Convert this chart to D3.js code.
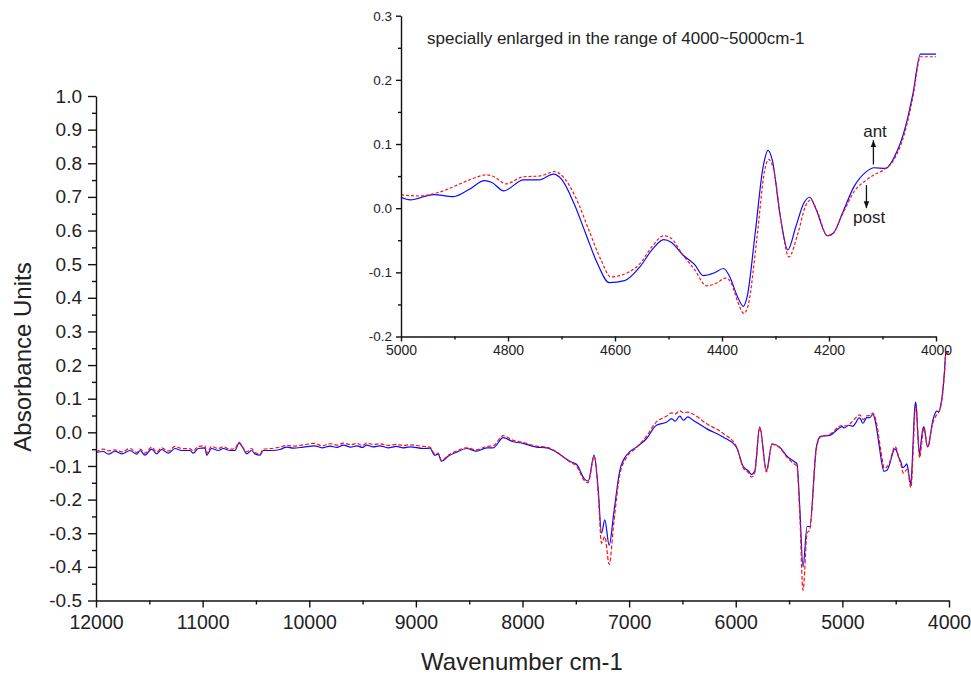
<!DOCTYPE html>
<html>
<head>
<meta charset="utf-8">
<script src="https://d3js.org/d3.v7.min.js"></script>
<style>
  body { margin: 0; background: #fff; }
  text { font-family: "Liberation Sans", Arial, sans-serif; fill: #222; }
  .axis path, .axis line { stroke: #111; stroke-width: 1.4; }
</style>
</head>
<body>
<script>
// full spectrum, 12000 -> 5119 cm-1 (the 5000 -> 4000 part is taken from the enlarged arrays)
const mainWn = [12000,11931,11884,11822,11759,11681,11618,11587,11541,11478,11431,11384,11322,11259,11197,11119,11088,11041,10978,10962,10916,10853,10806,10744,10697,10659,10619,10587,10541,10509,10462,10431,10353,10275,10212,10150,
  10056,9950,9880,9806,9740,9681,9610,9556,9500,9462,9400,9337,9260,9181,9120,9056,
  8931,8869,8822,8791,8759,8697,8619,8525,8431,8337,8275,8181,8087,7994,7869,7775,7681,7556,7494,7416,7384,7328,7290,7259,7228,7187,7144,7087,7025,6931,6838,6744,
  6650,6600,6570,6525,6490,6450,6400,
  6275,6119,5994,5931,5880,5853,5822,5775,5712,5660,5588,5520,5447,5426,5400,5369,5331,5306,5244,5206,5119];
const mainAnt = [-0.060,-0.057,-0.065,-0.056,-0.064,-0.054,-0.065,-0.054,-0.068,-0.050,-0.064,-0.051,-0.062,-0.048,-0.054,-0.054,-0.062,-0.048,-0.046,-0.068,-0.048,-0.054,-0.048,-0.054,-0.054,-0.032,-0.048,-0.064,-0.054,-0.064,-0.068,-0.054,-0.054,-0.051,-0.044,-0.047,
  -0.044,-0.040,-0.046,-0.041,-0.045,-0.038,-0.044,-0.040,-0.045,-0.038,-0.043,-0.040,-0.046,-0.042,-0.046,-0.043,
  -0.048,-0.047,-0.068,-0.065,-0.086,-0.071,-0.059,-0.048,-0.056,-0.046,-0.046,-0.016,-0.028,-0.033,-0.044,-0.046,-0.059,-0.086,-0.095,-0.140,-0.145,-0.068,-0.170,-0.300,-0.260,-0.336,-0.240,-0.113,-0.068,-0.044,-0.019,0.021,
  0.030,0.041,0.033,0.048,0.036,0.046,0.036,
  0.011,-0.014,-0.044,-0.101,-0.115,-0.125,-0.115,0.016,-0.113,-0.034,-0.044,-0.071,-0.088,-0.093,-0.220,-0.400,-0.280,-0.280,-0.044,-0.012,-0.009];
const mainPost = [-0.058,-0.050,-0.055,-0.052,-0.058,-0.048,-0.060,-0.050,-0.062,-0.044,-0.058,-0.046,-0.056,-0.042,-0.048,-0.049,-0.055,-0.042,-0.040,-0.062,-0.042,-0.048,-0.043,-0.050,-0.049,-0.029,-0.046,-0.058,-0.048,-0.060,-0.064,-0.050,-0.048,-0.044,-0.039,-0.041,
  -0.037,-0.033,-0.040,-0.034,-0.038,-0.032,-0.037,-0.033,-0.039,-0.032,-0.036,-0.034,-0.039,-0.036,-0.039,-0.037,
  -0.042,-0.044,-0.064,-0.062,-0.084,-0.068,-0.056,-0.046,-0.052,-0.042,-0.040,-0.010,-0.024,-0.030,-0.041,-0.044,-0.058,-0.088,-0.100,-0.145,-0.150,-0.072,-0.180,-0.330,-0.310,-0.393,-0.270,-0.125,-0.075,-0.046,-0.012,0.031,
  0.048,0.058,0.054,0.064,0.058,0.060,0.054,
  0.026,-0.003,-0.042,-0.105,-0.120,-0.133,-0.120,0.014,-0.118,-0.036,-0.046,-0.074,-0.095,-0.100,-0.240,-0.470,-0.300,-0.290,-0.050,-0.014,-0.006];

// enlarged range, 5000 -> 4000 cm-1
const zoomWn = [5000,4983,4939,4902,4873,4844,4830,4808,4771,4742,4715,4699,4677,4655,4633,4611,4582,4553,4531,4509,4495,4473,4451,4435,4415,4397,4386,4371,4360,4353,4338,4323,4314,4306,4291,4277,4262,4247,4236,4225,4203,4192,4175,4153,4130,4116,4094,4079,4057,4043,4029,4000];
const zoomAnt = [0.017,0.013,0.021,0.018,0.029,0.043,0.040,0.027,0.044,0.044,0.053,0.044,0.008,-0.039,-0.086,-0.116,-0.113,-0.091,-0.065,-0.049,-0.053,-0.073,-0.088,-0.105,-0.101,-0.094,-0.106,-0.138,-0.153,-0.138,-0.039,0.065,0.090,0.075,-0.013,-0.065,-0.029,0.008,0.017,0.000,-0.043,-0.039,-0.008,0.034,0.057,0.063,0.062,0.078,0.127,0.179,0.240,0.240];
const zoomPostWn = [5000,4968,4932,4895,4866,4841,4826,4804,4771,4742,4713,4695,4673,4648,4626,4608,4575,4553,4531,4509,4495,4473,4451,4429,4411,4393,4382,4371,4359,4351,4335,4320,4313,4304,4288,4275,4258,4244,4234,4222,4203,4192,4175,4153,4130,4116,4097,4079,4057,4043,4029,4000];
const zoomPost = [0.021,0.019,0.024,0.036,0.046,0.052,0.049,0.038,0.049,0.050,0.057,0.047,0.016,-0.036,-0.081,-0.107,-0.100,-0.086,-0.060,-0.043,-0.047,-0.073,-0.096,-0.121,-0.117,-0.109,-0.118,-0.145,-0.164,-0.151,-0.049,0.060,0.076,0.062,-0.029,-0.076,-0.039,0.003,0.013,-0.005,-0.043,-0.039,-0.010,0.026,0.044,0.052,0.060,0.075,0.122,0.174,0.236,0.236];

const mainYTicks = [-0.5,-0.4,-0.3,-0.2,-0.1,0.0,0.1,0.2,0.3,0.4,0.5,0.6,0.7,0.8,0.9,1.0];
const mainXTicks = [12000,11000,10000,9000,8000,7000,6000,5000,4000];
const zoomYTicks = [-0.2,-0.1,0.0,0.1,0.2,0.3];
const zoomXTicks = [5000,4800,4600,4400,4200,4000];

const antColour = "#0a0aff", postColour = "#ff1010";

const svg = d3.select("body").append("svg").attr("width", 971).attr("height", 674);

const ant = mainWn.map((w, i) => ({ w, v: mainAnt[i] }))
  .concat(zoomWn.map((w, i) => ({ w, v: zoomAnt[i] })));
const post = mainWn.map((w, i) => ({ w, v: mainPost[i] }))
  .concat(zoomPostWn.map((w, i) => ({ w, v: zoomPost[i] })));
const zAnt = zoomWn.map((w, i) => ({ w, v: zoomAnt[i] }));
const zPost = zoomPostWn.map((w, i) => ({ w, v: zoomPost[i] }));

function fmt(d) { return d.toFixed(1); }
function minorsOf(ticks) {
  const out = [];
  for (let i = 0; i < ticks.length - 1; i++) out.push((ticks[i] + ticks[i + 1]) / 2);
  return out;
}

// ---- main plot
const x = d3.scaleLinear().domain([12000, 4000]).range([96, 949]);
const y = d3.scaleLinear().domain([-0.5, 1.0]).range([600.5, 96]);

const line = d3.line().x(d => x(d.w)).y(d => y(d.v)).curve(d3.curveMonotoneX);

svg.append("path").datum(ant).attr("d", line)
  .attr("fill", "none").attr("stroke", antColour).attr("stroke-width", 1.2);
svg.append("path").datum(post).attr("d", line)
  .attr("fill", "none").attr("stroke", postColour).attr("stroke-width", 1.2)
  .attr("stroke-dasharray", "4,2");

const gx = svg.append("g").attr("class", "axis").attr("transform", "translate(0,600.5)")
  .call(d3.axisBottom(x).tickValues(mainXTicks).tickSize(7).tickPadding(8).tickSizeOuter(0).tickFormat(d3.format("d")));
svg.append("g").attr("class", "axis").attr("transform", "translate(0,600.5)")
  .call(d3.axisBottom(x).tickValues(minorsOf(mainXTicks)).tickSize(4).tickFormat("").tickSizeOuter(0))
  .select(".domain").remove();
const gy = svg.append("g").attr("class", "axis").attr("transform", "translate(96,0)")
  .call(d3.axisLeft(y).tickValues(mainYTicks).tickSize(8).tickPadding(6).tickSizeOuter(0).tickFormat(fmt));
svg.append("g").attr("class", "axis").attr("transform", "translate(96,0)")
  .call(d3.axisLeft(y).tickValues(minorsOf(mainYTicks)).tickSize(4).tickFormat("").tickSizeOuter(0))
  .select(".domain").remove();
gx.selectAll("text").attr("font-size", 19.5).attr("fill", "#222");
gy.selectAll("text").attr("font-size", 19).attr("fill", "#222");

svg.append("text").attr("x", 522).attr("y", 670).attr("text-anchor", "middle")
  .attr("font-size", 24).text("Wavenumber cm-1");
svg.append("text").attr("transform", "translate(31,357) rotate(-90)").attr("text-anchor", "middle")
  .attr("font-size", 24).text("Absorbance Units");

// ---- inset
const zx = d3.scaleLinear().domain([5000, 4000]).range([401, 936]);
const zy = d3.scaleLinear().domain([-0.2, 0.3]).range([336.5, 15.7]);
const zline = d3.line().x(d => zx(d.w)).y(d => zy(d.v)).curve(d3.curveMonotoneX);

svg.append("path").datum(zAnt).attr("d", zline)
  .attr("fill", "none").attr("stroke", antColour).attr("stroke-width", 1.2);
svg.append("path").datum(zPost).attr("d", zline)
  .attr("fill", "none").attr("stroke", postColour).attr("stroke-width", 1.2)
  .attr("stroke-dasharray", "3,2");

const zgx = svg.append("g").attr("class", "axis").attr("transform", "translate(0,336.5)")
  .call(d3.axisBottom(zx).tickValues(zoomXTicks).tickSize(5).tickPadding(4).tickSizeOuter(0).tickFormat(d3.format("d")));
svg.append("g").attr("class", "axis").attr("transform", "translate(0,336.5)")
  .call(d3.axisBottom(zx).tickValues(minorsOf(zoomXTicks)).tickSize(3).tickFormat("").tickSizeOuter(0))
  .select(".domain").remove();
const zgy = svg.append("g").attr("class", "axis").attr("transform", "translate(401,0)")
  .call(d3.axisLeft(zy).tickValues(zoomYTicks).tickSize(5).tickPadding(4).tickSizeOuter(0).tickFormat(fmt));
svg.append("g").attr("class", "axis").attr("transform", "translate(401,0)")
  .call(d3.axisLeft(zy).tickValues(minorsOf(zoomYTicks)).tickSize(3).tickFormat("").tickSizeOuter(0))
  .select(".domain").remove();
zgx.selectAll("text").attr("font-size", 14).attr("fill", "#222");
zgy.selectAll("text").attr("font-size", 13.5).attr("fill", "#222");

svg.append("text").attr("x", 427).attr("y", 44).attr("font-size", 17)
  .text("specially enlarged in the range of 4000~5000cm-1");

// ant / post arrows
svg.append("defs").append("marker").attr("id", "head")
  .attr("viewBox", "0 0 10 10").attr("refX", 10).attr("refY", 5)
  .attr("markerWidth", 7).attr("markerHeight", 7).attr("markerUnits", "userSpaceOnUse")
  .attr("orient", "auto")
  .append("path").attr("d", "M0,1 L10,5 L0,9 Z").attr("fill", "#111");
svg.append("line").attr("x1", zx(4117)).attr("y1", zy(0.068)).attr("x2", zx(4117)).attr("y2", zy(0.106))
  .attr("stroke", "#111").attr("stroke-width", 1.3).attr("marker-end", "url(#head)");
svg.append("line").attr("x1", zx(4130)).attr("y1", zy(0.036)).attr("x2", zx(4130)).attr("y2", zy(0.0))
  .attr("stroke", "#111").attr("stroke-width", 1.3).attr("marker-end", "url(#head)");
svg.append("text").attr("x", zx(4114)).attr("y", 137).attr("text-anchor", "middle")
  .attr("font-size", 17).text("ant");
svg.append("text").attr("x", zx(4125)).attr("y", 223).attr("text-anchor", "middle")
  .attr("font-size", 17).text("post");
</script>
</body>
</html>
